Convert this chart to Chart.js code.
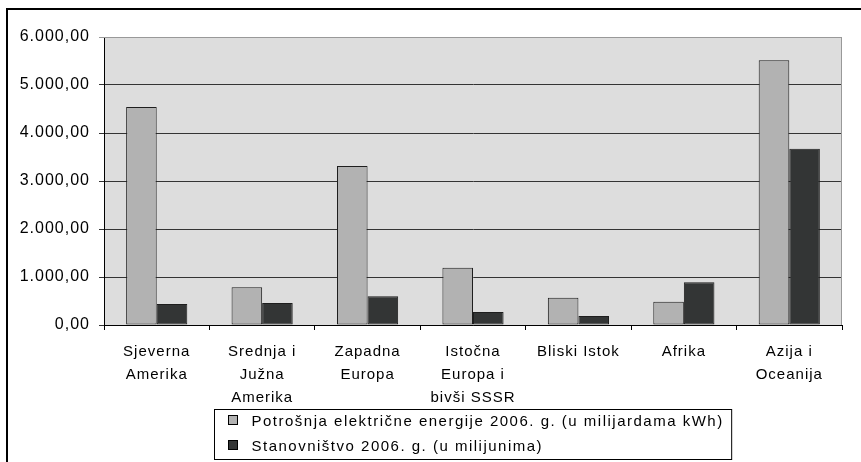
<!DOCTYPE html>
<html>
<head>
<meta charset="utf-8">
<script src="https://cdn.jsdelivr.net/npm/chart.js@4.4.0/dist/chart.umd.min.js"></script>
<style>
  html, body { margin: 0; padding: 0; background: #fff; }
  canvas { display: block; }
</style>
</head>
<body>
<canvas id="chart" width="861" height="462"></canvas>
<script>
// Data
const regions = [
  ['Sjeverna', 'Amerika'],
  ['Srednja i', 'Južna', 'Amerika'],
  ['Zapadna', 'Europa'],
  ['Istočna', 'Europa i', 'bivši SSSR'],
  ['Bliski Istok'],
  ['Afrika'],
  ['Azija i', 'Oceanija']
];
const energy = [4540, 785, 3310, 1195, 570, 485, 5515];
const population = [440, 460, 600, 270, 190, 890, 3673];
const seriesNames = [
  'Potrošnja električne energije 2006. g. (u milijardama kWh)',
  'Stanovništvo 2006. g. (u milijunima)'
];
const yTicks = [0, 1000, 2000, 3000, 4000, 5000, 6000];

function fmt(v) {
  const s = Math.round(v).toString().replace(/\B(?=(\d{3})+(?!\d))/g, '.');
  return s + ',00';
}

const FONT = '"Liberation Sans", Arial, sans-serif';
Chart.defaults.font.family = FONT;
Chart.defaults.color = '#000';

// background of plot, outer frame, spacing of text
const framePlugin = {
  id: 'frame',
  beforeDraw(chart) {
    const { ctx, chartArea: a } = chart;
    ctx.save();
    ctx.fillStyle = '#fff';
    ctx.fillRect(0, 0, chart.width, chart.height);
    ctx.fillStyle = '#000';
    ctx.fillRect(6, 8, chart.width - 6, 2);
    ctx.fillRect(6, 8, 2, chart.height - 8);
    ctx.fillStyle = '#dddddd';
    ctx.fillRect(a.left, a.top, a.right - a.left, a.bottom - a.top);
    ctx.restore();
    ctx.letterSpacing = '1px';
  },
  beforeDatasetsDraw(chart) {
    const { ctx, chartArea: a } = chart;
    ctx.save();
    ctx.strokeStyle = '#999';
    ctx.lineWidth = 1;
    ctx.beginPath();
    ctx.moveTo(a.left, a.top + 0.5);
    ctx.lineTo(a.right - 0.5, a.top + 0.5);
    ctx.lineTo(a.right - 0.5, a.bottom);
    ctx.stroke();
    ctx.restore();
  }
};

// boxed legend under the axis labels
const boxLegend = {
  id: 'boxLegend',
  afterDraw(chart) {
    const { ctx, chartArea: a } = chart;
    ctx.save();
    ctx.letterSpacing = '1.5px';
    ctx.font = '15px ' + FONT;
    const textW = Math.max(...chart.data.datasets.map(d => ctx.measureText(d.label).width));
    const w = textW + 45;
    const h = 50;
    const x = Math.round((a.left + a.right) / 2 - w / 2) + 0.5;
    const y = 409.5;
    ctx.fillStyle = '#fff';
    ctx.fillRect(x, y, w, h);
    ctx.strokeStyle = '#000';
    ctx.lineWidth = 1;
    ctx.strokeRect(x, y, w, h);
    ctx.textBaseline = 'middle';
    ctx.textAlign = 'left';
    chart.data.datasets.forEach((d, i) => {
      const cy = y + 11 + i * 25;
      ctx.fillStyle = d.backgroundColor;
      ctx.fillRect(x + 14, cy - 5, 9, 9);
      ctx.strokeStyle = '#000';
      ctx.strokeRect(x + 14, cy - 5, 9, 9);
      ctx.fillStyle = '#000';
      ctx.fillText(d.label, x + 37, cy + 1);
    });
    ctx.restore();
  }
};

new Chart(document.getElementById('chart'), {
  type: 'bar',
  data: {
    labels: regions,
    datasets: [
      {
        label: seriesNames[0],
        data: energy,
        backgroundColor: '#b2b2b2',
        borderColor: '#1e1e1e',
        borderWidth: 1,
        borderSkipped: false,
        barPercentage: 1,
        categoryPercentage: 0.58
      },
      {
        label: seriesNames[1],
        data: population,
        backgroundColor: '#333535',
        borderColor: '#1e1e1e',
        borderWidth: 1,
        borderSkipped: false,
        barPercentage: 1,
        categoryPercentage: 0.58
      }
    ]
  },
  options: {
    responsive: false,
    animation: false,
    devicePixelRatio: 1,
    layout: { padding: { left: 0, top: 37, right: 19, bottom: 0 } },
    plugins: {
      legend: { display: false },
      title: { display: false },
      tooltip: { enabled: false }
    },
    scales: {
      x: {
        afterFit(axis) { axis.height = 137; },
        grid: {
          offset: true,
          drawOnChartArea: false,
          drawTicks: true,
          tickLength: 5,
          color: '#000'
        },
        border: { color: '#000', width: 1 },
        ticks: {
          autoSkip: false,
          maxRotation: 0,
          minRotation: 0,
          padding: 10,
          font: { size: 15, lineHeight: 1.53 },
          color: '#000'
        }
      },
      y: {
        min: 0,
        max: 6000,
        afterFit(axis) { axis.width = 104; },
        afterBuildTicks(axis) { axis.ticks = yTicks.map(v => ({ value: v })); },
        grid: {
          drawTicks: true,
          tickLength: 5,
          color: ctx => (ctx.tick && ctx.tick.value === 6000 ? '#999' : '#333'),
          lineWidth: 1
        },
        border: { color: '#000', width: 1 },
        ticks: {
          padding: 9,
          font: { size: 16 },
          color: '#000',
          callback: v => fmt(v)
        }
      }
    }
  },
  plugins: [framePlugin, boxLegend]
});
</script>
</body>
</html>
